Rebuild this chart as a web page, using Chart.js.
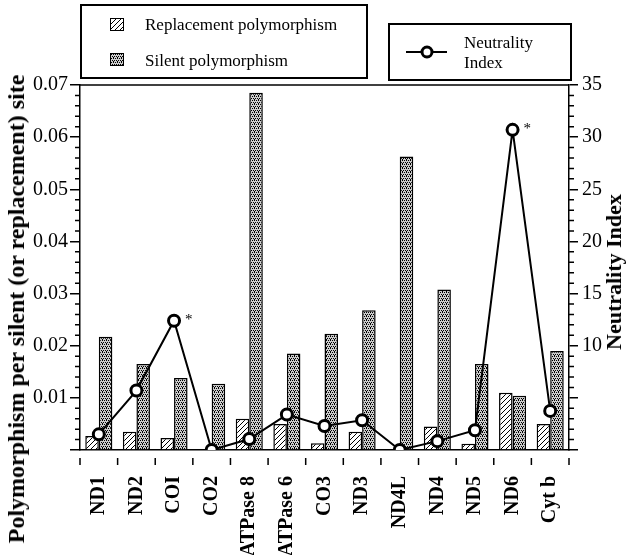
<!DOCTYPE html>
<html>
<head>
<meta charset="utf-8">
<script src="https://cdn.jsdelivr.net/npm/chart.js@4"></script>
<style>
  html, body { margin: 0; padding: 0; background: #fff; }
  #wrap { position: relative; width: 626px; height: 555px; font-family: 'Liberation Serif', 'Times New Roman', serif; color: #000; }
  canvas { position: absolute; left: 0; top: 0; }
  .box { position: absolute; border: 2px solid #000; box-sizing: border-box; background: #fff; }
  .txt { position: absolute; font-size: 17px; white-space: nowrap; line-height: 1; }
  .sw { position: absolute; width: 14px; height: 13px; border: 1.5px solid #000; box-sizing: border-box; }
  .title { position: absolute; font-weight: bold; white-space: nowrap; transform: translate(-50%, -50%) rotate(-90deg); line-height: 1; }
</style>
</head>
<body>
<div id="wrap">
  <canvas id="c" width="626" height="555"></canvas>
  <div class="box" style="left:80px; top:4px; width:288px; height:75px;"></div>
  <div class="sw" id="swRep" style="left:110px; top:18px;"></div>
  <div class="txt" style="left:145px; top:16px;">Replacement polymorphism</div>
  <div class="sw" id="swSil" style="left:110px; top:53px;"></div>
  <div class="txt" style="left:145px; top:52px;">Silent polymorphism</div>
  <div class="box" style="left:388px; top:23px; width:184px; height:58px;"></div>
  <svg style="position:absolute; left:400px; top:40px;" width="54" height="24">
    <line x1="6" y1="12" x2="47" y2="12" stroke="#000" stroke-width="2"/>
    <circle cx="27" cy="12" r="5" fill="#fff" stroke="#000" stroke-width="3"/>
  </svg>
  <div class="txt" style="left:464px; top:34px;">Neutrality</div>
  <div class="txt" style="left:464px; top:54px;">Index</div>
  <div class="title" style="left:16px; top:309px; font-size:24px;">Polymorphism per silent (or replacement) site</div>
  <div class="title" style="left:614px; top:272px; font-size:22px;">Neutrality Index</div>
</div>
<script>
const categories = ['ND1','ND2','COI','CO2','ATPase 8','ATPase 6','CO3','ND3','ND4L','ND4','ND5','ND6','Cyt b'];
const replacement = [0.0027,0.0035,0.0023,0,0.006,0.005,0.0013,0.0035,0,0.0045,0.0012,0.011,0.005];
const silent = [0.0217,0.0165,0.0138,0.0127,0.0685,0.0185,0.0223,0.0268,0.0563,0.0308,0.0165,0.0104,0.019];
const neutralityIndex = [1.5,5.7,12.4,0,1.05,3.4,2.3,2.85,0,0.85,1.9,30.7,3.75];
const significant = ['COI','ND6'];
const leftTickLabels = [0.01,0.02,0.03,0.04,0.05,0.06,0.07];
const rightTickLabels = [10,15,20,25,30,35];

function makeStipple() {
  const c = document.createElement('canvas'); c.width = 4; c.height = 4;
  const g = c.getContext('2d');
  g.fillStyle = '#cccccc'; g.fillRect(0,0,4,4);
  g.fillStyle = '#000';
  [[0,0],[2,0],[1,2],[3,2],[2,3]].forEach(p => g.fillRect(p[0],p[1],1,1));
  return c;
}
function makeHatch() {
  const c = document.createElement('canvas'); c.width = 5; c.height = 5;
  const g = c.getContext('2d');
  g.fillStyle = '#fff'; g.fillRect(0,0,5,5);
  g.fillStyle = '#000';
  for (let i = 0; i < 5; i++) g.fillRect(i, 4 - i, 1, 1);
  return c;
}
const stippleCanvas = makeStipple();
const hatchCanvas = makeHatch();
const ctx = document.getElementById('c').getContext('2d');
const stipple = ctx.createPattern(stippleCanvas, 'repeat');
const hatch = ctx.createPattern(hatchCanvas, 'repeat');
document.getElementById('swSil').style.background = 'url(' + stippleCanvas.toDataURL() + ')';
document.getElementById('swRep').style.background = 'url(' + hatchCanvas.toDataURL() + ')';

const FONT = "'Liberation Serif', 'Times New Roman', serif";

const decor = {
  id: 'decor',
  afterDraw(chart) {
    const { ctx, chartArea: a, scales } = chart;
    ctx.save();
    ctx.strokeStyle = '#000';
    ctx.lineWidth = 1.5;
    ctx.beginPath(); ctx.moveTo(a.left, a.top); ctx.lineTo(a.right, a.top); ctx.stroke();
    const y = scales.y;
    ctx.beginPath();
    for (let k = 0; k <= 35; k++) {
      if (k % 5 === 0) continue;
      const py = y.getPixelForValue(k * 0.002);
      ctx.moveTo(a.left - 5, py); ctx.lineTo(a.left, py);
    }
    const y2 = scales.y2;
    for (let k = 0; k <= 35; k++) {
      if (k % 5 === 0) continue;
      const py = y2.getPixelForValue(k);
      ctx.moveTo(a.right, py); ctx.lineTo(a.right + 5, py);
    }
    const n = categories.length;
    for (let i = 0; i <= n; i++) {
      const px = a.left + i * (a.width / n);
      ctx.moveTo(px, a.bottom + 8); ctx.lineTo(px, a.bottom + 15);
    }
    ctx.stroke();
    const meta = chart.getDatasetMeta(0);
    ctx.fillStyle = '#000';
    ctx.font = '15px ' + FONT;
    ctx.textAlign = 'left';
    ctx.textBaseline = 'middle';
    significant.forEach(name => {
      const pt = meta.data[categories.indexOf(name)];
      ctx.fillText('*', pt.x + 11, pt.y - 1);
    });
    ctx.restore();
  }
};

new Chart(ctx, {
  type: 'bar',
  data: {
    labels: categories,
    datasets: [
      {
        type: 'line', label: 'Neutrality Index', data: neutralityIndex, yAxisID: 'y2', order: 0,
        borderColor: '#000', borderWidth: 2, tension: 0,
        pointRadius: 5.5, pointBorderWidth: 3, pointBackgroundColor: '#fff', pointBorderColor: '#000'
      },
      {
        label: 'Replacement polymorphism', data: replacement, yAxisID: 'y', order: 1,
        backgroundColor: hatch, borderColor: '#000', borderWidth: 1.5,
        categoryPercentage: 0.72, barPercentage: 1.0
      },
      {
        label: 'Silent polymorphism', data: silent, yAxisID: 'y', order: 1,
        backgroundColor: stipple, borderColor: '#000', borderWidth: 1.5,
        categoryPercentage: 0.72, barPercentage: 1.0
      }
    ]
  },
  options: {
    responsive: false,
    animation: false,
    devicePixelRatio: 1,
    layout: { padding: { top: 85, left: 0, right: 0, bottom: 0 } },
    plugins: { legend: { display: false }, tooltip: { enabled: false } },
    scales: {
      x: {
        grid: { display: false },
        border: { display: true, color: '#000', width: 1.5 },
        ticks: { color: '#000', font: { family: FONT, size: 20, weight: 'bold' }, minRotation: 90, maxRotation: 90, padding: 18, autoSkip: false },
        afterFit(s) { s.height = 105; }
      },
      y: {
        position: 'left', min: 0, max: 0.07,
        grid: { drawOnChartArea: false, color: '#000', lineWidth: 1.5, tickLength: 10 },
        border: { color: '#000', width: 1.5 },
        ticks: {
          stepSize: 0.01, color: '#000', padding: 2, font: { family: FONT, size: 20 },
          callback: v => leftTickLabels.some(t => Math.abs(t - v) < 1e-9) ? Number(v).toFixed(2) : ''
        },
        afterFit(s) { s.width = 80; }
      },
      y2: {
        position: 'right', min: 0, max: 35,
        grid: { drawOnChartArea: false, color: '#000', lineWidth: 1.5, tickLength: 9 },
        border: { color: '#000', width: 1.5 },
        ticks: {
          stepSize: 5, color: '#000', padding: 4, font: { family: FONT, size: 20 },
          callback: v => rightTickLabels.includes(v) ? String(v) : ''
        },
        afterFit(s) { s.width = 57; }
      }
    }
  },
  plugins: [decor]
});
</script>
</body>
</html>
